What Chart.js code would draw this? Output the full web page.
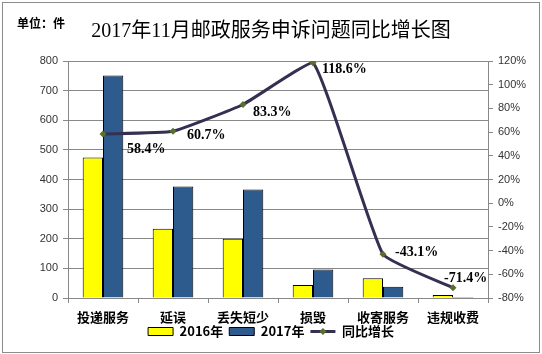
<!DOCTYPE html>
<html>
<head>
<meta charset="utf-8">
<script src="https://cdn.jsdelivr.net/npm/chart.js@4.4.1/dist/chart.umd.min.js"></script>
<style>
  html, body { margin: 0; padding: 0; background: #ffffff; }
  #wrap { position: relative; width: 542px; height: 354px; }
  #unit { position: absolute; left: 17px; top: 14px; font: bold 12px "Noto Sans CJK SC", sans-serif; color: #000; }
</style>
</head>
<body>
<div id="wrap">
  <canvas id="c" width="542" height="354"></canvas>
  <div id="unit">单位：件</div>
</div>
<script>
const categories = ["投递服务", "延误", "丢失短少", "损毁", "收寄服务", "违规收费"];
const seriesNames = ["2016年", "2017年", "同比增长"];
const values2016 = [474, 234, 200, 44, 67, 10];
const values2017 = [751, 376, 366, 96, 38, 3];
const growthPct = [58.4, 60.7, 83.3, 118.6, -43.1, -71.4];
const leftTicks = [0, 100, 200, 300, 400, 500, 600, 700, 800];
const rightTicks = [-80, -60, -40, -20, 0, 20, 40, 60, 80, 100, 120];

const labelOffsets = [[24, 15], [14, 4], [10, 8], [9, 7], [12, -2], [-9, -9]];

const borderPlugin = {
  id: 'outerBorder',
  beforeDraw(chart) {
    const ctx = chart.ctx;
    ctx.save();
    ctx.fillStyle = '#fff';
    ctx.fillRect(0, 0, chart.width, chart.height);
    ctx.strokeStyle = '#8c8c8c';
    ctx.lineWidth = 1;
    ctx.strokeRect(2.5, 2.5, chart.width - 5, chart.height - 4);
    ctx.restore();
  }
};

const labelPlugin = {
  id: 'pctLabels',
  afterDatasetsDraw(chart) {
    const ctx = chart.ctx;
    const meta = chart.getDatasetMeta(0);
    ctx.save();
    ctx.font = 'bold 14px "Liberation Serif", "Noto Sans CJK SC", serif';
    ctx.fillStyle = '#000';
    ctx.textBaseline = 'middle';
    ctx.textAlign = 'left';
    meta.data.forEach((pt, i) => {
      const off = labelOffsets[i];
      ctx.fillText(growthPct[i].toFixed(1) + '%', pt.x + off[0], pt.y + off[1]);
    });
    ctx.restore();
  },
  afterDraw(chart) {
    const lg = chart.legend;
    if (!lg || !lg.legendHitBoxes || lg.legendHitBoxes.length < 3) return;
    const hb = lg.legendHitBoxes[2];
    const ctx = chart.ctx;
    const cx = hb.left + 12.5;
    const cy = hb.top + hb.height / 2;
    ctx.save();
    ctx.fillStyle = '#5a6e2e';
    ctx.beginPath();
    ctx.moveTo(cx, cy - 3.5); ctx.lineTo(cx + 3.5, cy); ctx.lineTo(cx, cy + 3.5); ctx.lineTo(cx - 3.5, cy);
    ctx.closePath(); ctx.fill();
    ctx.restore();
  }
};

const tickFont = { family: '"Liberation Sans", sans-serif', size: 11 };

new Chart(document.getElementById('c'), {
  type: 'bar',
  data: {
    labels: categories,
    datasets: [
      {
        type: 'line', label: seriesNames[2], data: growthPct, yAxisID: 'y1',
        borderColor: '#352f52', backgroundColor: '#352f52', borderWidth: 3,
        tension: 0.12, pointStyle: 'rectRot', pointRadius: 3.5,
        pointBackgroundColor: '#5a6e2e', pointBorderColor: '#5a6e2e', pointBorderWidth: 0,
        order: 0
      },
      {
        label: seriesNames[0], data: values2016, yAxisID: 'y',
        backgroundColor: '#ffff00', borderColor: '#000', borderWidth: 1,
        categoryPercentage: 0.58, barPercentage: 1.0, order: 1
      },
      {
        label: seriesNames[1], data: values2017, yAxisID: 'y',
        backgroundColor: '#2e5b8e', borderColor: '#000', borderWidth: 1,
        categoryPercentage: 0.58, barPercentage: 1.0, order: 1
      }
    ]
  },
  options: {
    responsive: false,
    animation: false,
    layout: { padding: { left: 0, right: 0, top: 0, bottom: 6 } },
    plugins: {
      title: {
        display: true,
        text: '2017年11月邮政服务申诉问题同比增长图',
        font: { family: '"Liberation Serif", "Noto Sans CJK SC", serif', size: 20, weight: 'normal' },
        color: '#000',
        padding: { top: 20, bottom: 17 }
      },
      legend: {
        position: 'bottom',
        labels: {
          sort: (a, b) => (a.datasetIndex === 0 ? 1 : 0) - (b.datasetIndex === 0 ? 1 : 0) || a.datasetIndex - b.datasetIndex,
          usePointStyle: true,
          pointStyleWidth: 25,
          boxWidth: 25,
          boxHeight: 8,
          padding: 6,
          color: '#000',
          font: { family: '"Noto Sans CJK SC", sans-serif', size: 13, weight: 'bold' },
          generateLabels(chart) {
            const items = Chart.defaults.plugins.legend.labels.generateLabels(chart);
            items.forEach(it => {
              if (it.datasetIndex === 0) { it.pointStyle = 'line'; it.lineWidth = 3; it.strokeStyle = '#352f52'; }
              else { it.pointStyle = 'rect'; it.lineWidth = 1; it.strokeStyle = '#000'; }
            });
            return items;
          }
        }
      },
      tooltip: { enabled: false }
    },
    scales: {
      x: {
        grid: { offset: true, drawOnChartArea: false, tickLength: 5, color: '#888' },
        border: { color: '#888' },
        ticks: { color: '#000', padding: 6, font: { family: '"Noto Sans CJK SC", sans-serif', size: 13, weight: 'bold' } },
        afterFit(s) { s.height = 21; s._computeLabelArea = () => undefined; }
      },
      y: {
        position: 'left', min: 0, max: 800,
        afterBuildTicks(s) { s.ticks = leftTicks.map(v => ({ value: v })); },
        grid: { color: '#888', tickLength: 5 },
        border: { color: '#888' },
        ticks: { color: '#333', font: tickFont, padding: 5 },
        afterFit(s) { s.width = 68; }
      },
      y1: {
        position: 'right', min: -80, max: 120,
        afterBuildTicks(s) { s.ticks = rightTicks.map(v => ({ value: v })); },
        grid: { drawOnChartArea: false, tickLength: 5, color: '#888' },
        border: { color: '#888' },
        ticks: { color: '#333', font: tickFont, padding: 5, callback: v => v + '%' },
        afterFit(s) { s.width = 54; }
      }
    }
  },
  plugins: [borderPlugin, labelPlugin]
});
</script>
</body>
</html>
